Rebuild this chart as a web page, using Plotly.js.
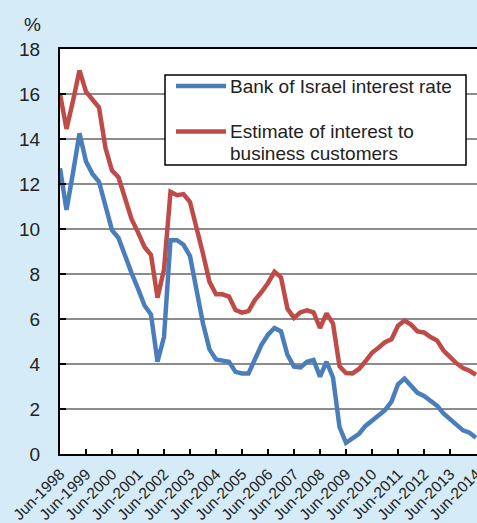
<!DOCTYPE html>
<html>
<head>
<meta charset="utf-8">
<script src="https://cdn.plot.ly/plotly-3.0.1.min.js"></script>
<style>
html,body{margin:0;padding:0;background:#d5ecf8;}
#chart{width:477px;height:523px;}
</style>
</head>
<body>
<div id="chart"></div>
<script>
// Quarterly observations, Jun-1998 .. Jun-2014
const quarters = [
 "Jun-1998","Sep-1998","Dec-1998","Mar-1999",
 "Jun-1999","Sep-1999","Dec-1999","Mar-2000",
 "Jun-2000","Sep-2000","Dec-2000","Mar-2001",
 "Jun-2001","Sep-2001","Dec-2001","Mar-2002",
 "Jun-2002","Sep-2002","Dec-2002","Mar-2003",
 "Jun-2003","Sep-2003","Dec-2003","Mar-2004",
 "Jun-2004","Sep-2004","Dec-2004","Mar-2005",
 "Jun-2005","Sep-2005","Dec-2005","Mar-2006",
 "Jun-2006","Sep-2006","Dec-2006","Mar-2007",
 "Jun-2007","Sep-2007","Dec-2007","Mar-2008",
 "Jun-2008","Sep-2008","Dec-2008","Mar-2009",
 "Jun-2009","Sep-2009","Dec-2009","Mar-2010",
 "Jun-2010","Sep-2010","Dec-2010","Mar-2011",
 "Jun-2011","Sep-2011","Dec-2011","Mar-2012",
 "Jun-2012","Sep-2012","Dec-2012","Mar-2013",
 "Jun-2013","Sep-2013","Dec-2013","Mar-2014",
 "Jun-2014"
];
const tickLabels = [
 "Jun-1998","Jun-1999","Jun-2000","Jun-2001","Jun-2002","Jun-2003",
 "Jun-2004","Jun-2005","Jun-2006","Jun-2007","Jun-2008","Jun-2009",
 "Jun-2010","Jun-2011","Jun-2012","Jun-2013","Jun-2014"
];
const bankOfIsraelRate = [
 12.7,10.85,12.5,14.25,
 13.0,12.45,12.1,11.1,
 9.95,9.6,8.8,8.05,
 7.35,6.6,6.2,4.1,
 5.2,9.5,9.5,9.3,
 8.8,7.3,5.8,4.65,
 4.2,4.15,4.1,3.65,
 3.58,3.58,4.2,4.85,
 5.3,5.6,5.45,4.4,
 3.88,3.85,4.1,4.18,
 3.44,4.1,3.4,1.2,
 0.5,0.7,0.9,1.25,
 1.5,1.7,1.95,2.33,
 3.1,3.35,3.05,2.72,
 2.58,2.35,2.15,1.8,
 1.55,1.3,1.05,0.95,
 0.72
];
const businessRate = [
 16.0,14.45,15.7,17.05,
 16.1,15.75,15.4,13.6,
 12.6,12.3,11.45,10.45,
 9.85,9.2,8.85,6.95,
 8.2,11.65,11.5,11.55,
 11.2,10.1,8.9,7.65,
 7.1,7.1,7.0,6.4,
 6.28,6.35,6.85,7.2,
 7.6,8.1,7.85,6.45,
 6.05,6.3,6.38,6.3,
 5.6,6.25,5.8,3.9,
 3.6,3.58,3.78,4.12,
 4.5,4.72,4.97,5.1,
 5.7,5.93,5.75,5.45,
 5.4,5.2,5.05,4.6,
 4.3,4.03,3.82,3.7,
 3.52
];
const seriesNames = ["Bank of Israel interest rate", "Estimate of interest to", "business customers"];
const yTicks = [0,2,4,6,8,10,12,14,16,18];

const BLUE = "#4a7ebb", RED = "#be4b48";
const FONT = "Liberation Sans, Arial, sans-serif";

const traces = [
 {x: quarters, y: businessRate, type: "scatter", mode: "lines",
  line: {color: RED, width: 4.5}, name: seriesNames[1] + " " + seriesNames[2], showlegend: false, hoverinfo: "skip"},
 {x: quarters, y: bankOfIsraelRate, type: "scatter", mode: "lines",
  line: {color: BLUE, width: 4.5}, name: seriesNames[0], showlegend: false, hoverinfo: "skip"}
];

// pixel helpers for legend placement (plot area: x 60..477, y 49..454)
const px = v => (v - 60) / 417;
const py = v => (454 - v) / 405;

const layout = {
 width: 477, height: 523,
 paper_bgcolor: "#d5ecf8", plot_bgcolor: "#ffffff",
 margin: {l: 60, r: 0, t: 49, b: 69},
 font: {family: FONT, color: "#222", size: 19},
 showlegend: false,
 xaxis: {
  type: "category", range: [0, 64.154], categoryorder: "array", categoryarray: quarters,
  tickvals: tickLabels, ticktext: tickLabels, tickangle: -45,
  tickfont: {size: 15.5, color: "#222"},
  ticks: "inside", ticklen: 5, tickwidth: 1.5, tickcolor: "#000",
  ticklabelstandoff: 3,
  showline: true, linecolor: "#000", linewidth: 2, mirror: true,
  showgrid: false, zeroline: false, fixedrange: true
 },
 yaxis: {
  range: [0, 18], tickvals: yTicks, ticktext: yTicks.map(String),
  tickfont: {size: 19, color: "#222"},
  ticks: "inside", ticklen: 6, tickwidth: 1.5, tickcolor: "#000",
  ticklabelstandoff: 14,
  showline: true, linecolor: "#000", linewidth: 2,
  showgrid: true, gridcolor: "#8c8c8c", gridwidth: 1.5,
  zeroline: false, fixedrange: true
 },
 shapes: [
  {type: "rect", xref: "paper", yref: "paper", x0: px(165), x1: px(466), y0: py(165), y1: py(75),
   fillcolor: "#fff", line: {color: "#000", width: 1.5}, layer: "above"},
  {type: "line", xref: "paper", yref: "paper", x0: px(176), x1: px(226), y0: py(86), y1: py(86),
   line: {color: BLUE, width: 4.5}, layer: "above"},
  {type: "line", xref: "paper", yref: "paper", x0: px(176), x1: px(226), y0: py(131.5), y1: py(131.5),
   line: {color: RED, width: 4.5}, layer: "above"}
 ],
 annotations: [
  {text: "%", xref: "paper", yref: "paper", x: px(32), y: py(25), xanchor: "center", yanchor: "middle",
   showarrow: false, font: {size: 19, color: "#222"}},
  {text: seriesNames[0], xref: "paper", yref: "paper", x: px(228), y: py(86), xanchor: "left", yanchor: "middle",
   showarrow: false, font: {size: 19, color: "#222"}},
  {text: seriesNames[1], xref: "paper", yref: "paper", x: px(228), y: py(131.5), xanchor: "left", yanchor: "middle",
   showarrow: false, font: {size: 19, color: "#222"}},
  {text: seriesNames[2], xref: "paper", yref: "paper", x: px(228), y: py(153.5), xanchor: "left", yanchor: "middle",
   showarrow: false, font: {size: 19, color: "#222"}}
 ]
};

Plotly.newPlot("chart", traces, layout, {displayModeBar: false, staticPlot: true});
</script>
</body>
</html>
